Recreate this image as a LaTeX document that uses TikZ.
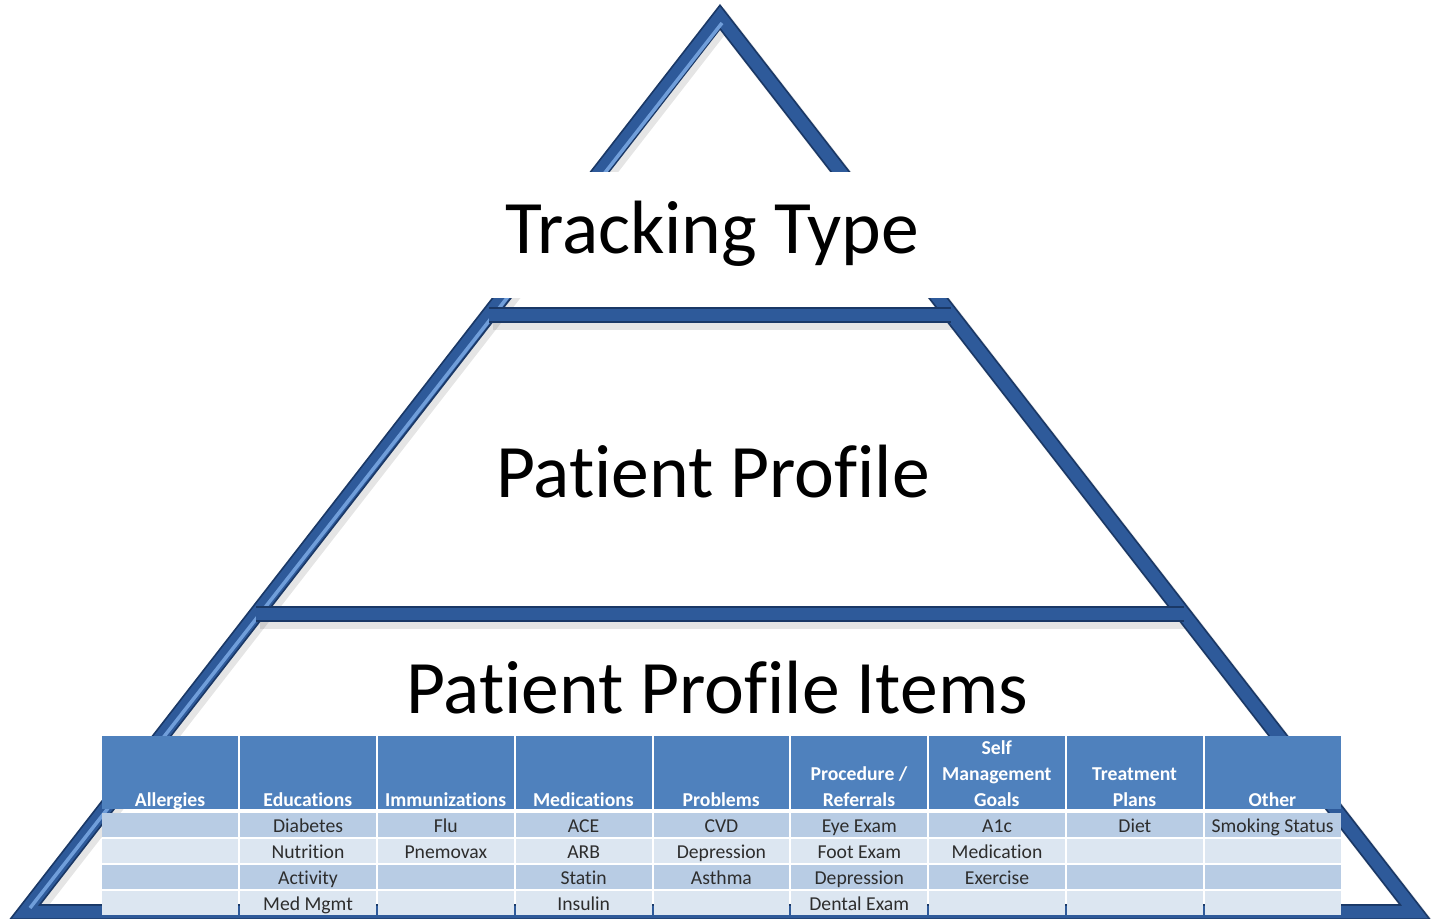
\documentclass[tikz,border=0pt]{standalone}
\usepackage{fontspec}
\setmainfont{Carlito}[Ligatures={NoCommon}]
\usepackage{xcolor}
\usepackage{tikz}
\usetikzlibrary{positioning,calc}
\definecolor{beamdark}{RGB}{26, 56, 102}
\definecolor{beam}{RGB}{46, 90, 154}
\definecolor{beamlight}{RGB}{112, 158, 218}
\definecolor{headblue}{RGB}{79, 129, 189}
\definecolor{rowdark}{RGB}{184, 204, 228}
\definecolor{rowlight}{RGB}{220, 230, 241}
\definecolor{celltext}{RGB}{45, 45, 45}

\begin{document}
\begin{tikzpicture}[x=0.02cm, y=-0.02cm,
    beamshadow/.style={draw=black, opacity=0.1, line width=0.34cm, line join=miter},
    beamout/.style={draw=beamdark, line width=0.32cm, line join=miter},
    beamin/.style={draw=beam, line width=0.25cm, line join=miter},
    beamhi/.style={draw=beamlight, line width=0.07cm},
    coverbox/.style={fill=white, minimum width=11.2cm, minimum height=2.52cm, inner sep=0},
    titletext/.style={font=\fontsize{43}{50}\selectfont, anchor=base, inner sep=0},
    headcell/.style={fill=headblue, anchor=north west, minimum width=2.716cm, minimum height=1.46cm, inner sep=0},
    headtext/.style={font=\fontsize{11.2}{14.8}\selectfont\bfseries, text=white, align=center, anchor=south, inner sep=0},
    bodycell/.style={anchor=north west, minimum width=2.716cm, minimum height=0.48cm, inner sep=0,
        text=celltext, font=\fontsize{11.2}{13}\selectfont, text height=1.9ex, text depth=0.1ex}
]
    \useasboundingbox (0,0) rectangle (1433,919);

    % pyramid frame
    \coordinate (apex) at (720,17);
    \coordinate (bl) at (25,912);
    \coordinate (br) at (1415,912);
    \coordinate (t1l) at (488.6,315);
    \coordinate (t1r) at (951.4,315);
    \coordinate (t2l) at (256.3,614);
    \coordinate (t2r) at (1183.7,614);

    \draw[beamshadow] ($(apex)+(4,5)$) -- ($(bl)+(4,5)$) -- ($(br)+(4,5)$) -- cycle;
    \draw[beamshadow] ($(t1l)+(4,6)$) -- ($(t1r)+(4,6)$);
    \draw[beamshadow] ($(t2l)+(4,6)$) -- ($(t2r)+(4,6)$);

    \draw[beamout] (apex) -- (bl) -- (br) -- cycle;
    \draw[beamin] (apex) -- (bl) -- (br) -- cycle;
    \draw[beamhi] ($(apex)+(2,6)$) -- ($(bl)+(5,-4)$);
    \foreach \a/\b in {t1l/t1r, t2l/t2r} {
        \draw[beamout] (\a) -- (\b);
        \draw[beamin] (\a) -- (\b);
    }

    % level labels
    \node[coverbox] (trackbox) at (720,235) {};
    \node[titletext] (track) at (712,253) {Tracking Type};
    \node[titletext] (profile) at (713,497) {Patient Profile};
    \node[titletext] (items) at (717,713) {Patient Profile Items};

    % item table
    \foreach \row [count=\r from 0] in {
        {{},Diabetes,Flu,ACE,CVD,Eye Exam,A1c,Diet,Smoking Status},
        {{},Nutrition,Pnemovax,ARB,Depression,Foot Exam,Medication,{},{}},
        {{},Activity,{},Statin,Asthma,Depression,Exercise,{},{}},
        {{},Med Mgmt,{},Insulin,{},Dental Exam,{},{},{}}} {
        \ifodd\r \def\rowfill{rowlight}\else \def\rowfill{rowdark}\fi
        \foreach \item [count=\c from 0] in \row {
            \node[bodycell, fill=\rowfill] (cell\r-\c) at ({102+137.8*\c},{813+25.8*\r}) {\item};
        }
    }
    \foreach \hd [count=\c from 0] in {Allergies, Educations, Immunizations, Medications, Problems,
        {Procedure /\\Referrals}, {Self\\Management\\Goals}, {Treatment\\Plans}, Other} {
        \node[headcell] (head\c) at ({102+137.8*\c},736) {};
        \node[headtext] (hlabel\c) at ({170+137.8*\c},814.5) {\hd\strut};
    }
\end{tikzpicture}
\end{document}
